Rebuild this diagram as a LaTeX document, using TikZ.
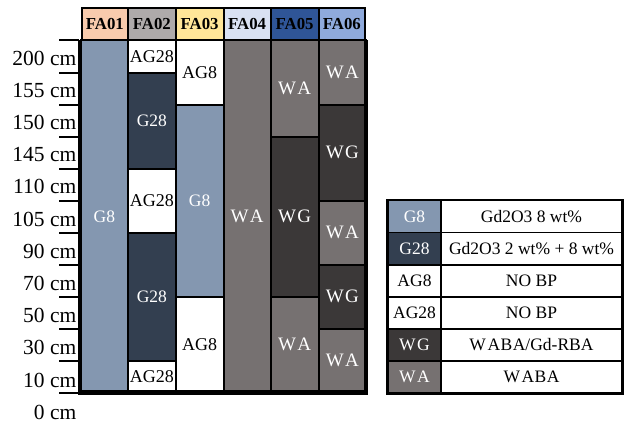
\documentclass[tikz,border=0pt]{standalone}
\usepackage{fontspec}
\setmainfont{Liberation Serif}
\usetikzlibrary{fit}
\definecolor{cGE}{HTML}{8497B0}
\definecolor{cGT}{HTML}{333F50}
\definecolor{cWG}{HTML}{3B3838}
\definecolor{cWA}{HTML}{767171}
\definecolor{hA}{HTML}{F8CBAD}
\definecolor{hB}{HTML}{AEAAAA}
\definecolor{hC}{HTML}{FFE699}
\definecolor{hD}{HTML}{D9E1F2}
\definecolor{hE}{HTML}{2F5597}
\definecolor{hF}{HTML}{8FAADC}
\newcommand\blk[7]{\node[#6, fit={(#2,40.5+32.02*#4)(#3,40.5+32.02*#5)}] (#1) {};
  \node[#6t] (#1t) at (#1.center) {#7};}
\newcommand\lgc[6]{\node[lg, fill=#4, fit={(#2,#3)(#5,#6)}] (#1) {};}
\begin{document}
\begin{tikzpicture}[x=1pt,y=-1pt,
  cell/.style={draw=black, line width=2pt, inner sep=0pt},
  txt/.style={inner sep=0pt, anchor=center},
  gE/.style={cell, fill=cGE}, gEt/.style={txt, text=white, font=\fontsize{17.5}{17.5}\selectfont},
  gT/.style={cell, fill=cGT}, gTt/.style={txt, text=white, font=\fontsize{17.5}{17.5}\selectfont},
  ag/.style={cell, fill=white}, agt/.style={txt, text=black, font=\fontsize{18}{18}\selectfont},
  wA/.style={cell, fill=cWA}, wAt/.style={txt, text=white, font=\fontsize{19}{19}\selectfont},
  wG/.style={cell, fill=cWG}, wGt/.style={txt, text=white, font=\fontsize{19}{19}\selectfont},
  hd/.style={draw=black, line width=2pt, inner sep=0pt},
  hdt/.style={txt, font=\fontsize{16.8}{16.8}\selectfont\bfseries},
  lg/.style={draw=black, line width=1.6pt, inner sep=0pt},
  lgt/.style={txt, font=\fontsize{17.5}{17.5}\selectfont},
  tl/.style={anchor=east, inner sep=0pt, font=\fontsize{21.5}{21.5}\selectfont}]
\useasboundingbox (0,0) rectangle (629,425);
% FA01
\blk{a1}{80.5}{128.3}{0}{11}{gE}{G8}
% FA02
\blk{b1}{128.3}{175.5}{0}{1}{ag}{AG28}
\blk{b2}{128.3}{175.5}{1}{4}{gT}{G28}
\blk{b3}{128.3}{175.5}{4}{6}{ag}{AG28}
\blk{b4}{128.3}{175.5}{6}{10}{gT}{G28}
\blk{b5}{128.3}{175.5}{10}{11}{ag}{AG28}
% FA03
\blk{c1}{175.5}{223.8}{0}{2}{ag}{AG8}
\blk{c2}{175.5}{223.8}{2}{8}{gE}{G8}
\blk{c3}{175.5}{223.8}{8}{11}{ag}{AG8}
% FA04
\blk{d1}{223.8}{270.5}{0}{11}{wA}{W\kern1.5pt A}
% FA05
\blk{e1}{270.5}{318.8}{0}{3}{wA}{W\kern1.5pt A}
\blk{e2}{270.5}{318.8}{3}{8}{wG}{W\kern1.5pt G}
\blk{e3}{270.5}{318.8}{8}{11}{wA}{W\kern1.5pt A}
% FA06
\blk{f1}{318.8}{366}{0}{2}{wA}{W\kern1.5pt A}
\blk{f2}{318.8}{366}{2}{5}{wG}{W\kern1.5pt G}
\blk{f3}{318.8}{366}{5}{7}{wA}{W\kern1.5pt A}
\blk{f4}{318.8}{366}{7}{9}{wG}{W\kern1.5pt G}
\blk{f5}{318.8}{366}{9}{11}{wA}{W\kern1.5pt A}
% frame
\draw[line width=4.5pt] (80,40.5) -- (80,392.7) -- (366,392.7) -- (366,40.5);
% header
\node[hd, fill=hA, fit={(81.5,8)(128.3,40.5)}] (hA) {};
\node[hd, fill=hB, fit={(128.3,8)(175.5,40.5)}] (hB) {};
\node[hd, fill=hC, fit={(175.5,8)(223.8,40.5)}] (hC) {};
\node[hd, fill=hD, fit={(223.8,8)(270.5,40.5)}] (hD) {};
\node[hd, fill=hE, fit={(270.5,8)(318.8,40.5)}] (hE) {};
\node[hd, fill=hF, fit={(318.8,8)(365,40.5)}] (hF) {};
\foreach \n/\t in {hA/FA01,hB/FA02,hC/FA03,hD/FA04,hE/FA05,hF/FA06}
  {\node[hdt] (\n t) at (\n.center) {\t};}
% ticks and labels
\foreach \i in {0,...,11} {\draw[line width=2pt] (59,40.5+32.02*\i) -- (79,40.5+32.02*\i);}
\foreach \v [count=\i from 0] in {200,155,150,145,110,105,90,70,50,30,10,0}
  {\node[tl] (t\i) at (76.5,58+32.2*\i) {\v{} cm};}
% legend
\lgc{lk1}{388}{200.6}{cGE}{441}{232.6}
\lgc{lv1}{441}{200.6}{white}{622}{232.6}
\lgc{lk2}{388}{232.6}{cGT}{441}{264.7}
\lgc{lv2}{441}{232.6}{white}{622}{264.7}
\lgc{lk3}{388}{264.7}{white}{441}{296.7}
\lgc{lv3}{441}{264.7}{white}{622}{296.7}
\lgc{lk4}{388}{296.7}{white}{441}{328.7}
\lgc{lv4}{441}{296.7}{white}{622}{328.7}
\lgc{lk5}{388}{328.7}{cWG}{441}{360.7}
\lgc{lv5}{441}{328.7}{white}{622}{360.7}
\lgc{lk6}{388}{360.7}{cWA}{441}{392.7}
\lgc{lv6}{441}{360.7}{white}{622}{392.7}
\node[lgt, text=white] (lk1t) at (lk1.center) {G8};
\node[lgt] (lv1t) at (lv1.center) {Gd2O3 8 wt\%};
\node[lgt, text=white] (lk2t) at (lk2.center) {G28};
\node[lgt] (lv2t) at (lv2.center) {Gd2O3 2 wt\% + 8 wt\%};
\node[lgt] (lk3t) at (lk3.center) {AG8};
\node[lgt] (lv3t) at (lv3.center) {NO BP};
\node[lgt] (lk4t) at (lk4.center) {AG28};
\node[lgt] (lv4t) at (lv4.center) {NO BP};
\node[lgt, text=white] (lk5t) at (lk5.center) {W\kern1.5pt G};
\node[lgt] (lv5t) at (lv5.center) {W\kern1.5pt A\kern0.5pt B\kern0.5pt A/Gd-RBA};
\node[lgt, text=white] (lk6t) at (lk6.center) {W\kern1.5pt A};
\node[lgt] (lv6t) at (lv6.center) {W\kern1.5pt A\kern0.5pt B\kern0.5pt A};
\draw[line width=2.2pt] (lk1.north west) rectangle (lv6.south east);
\end{tikzpicture}
\end{document}
